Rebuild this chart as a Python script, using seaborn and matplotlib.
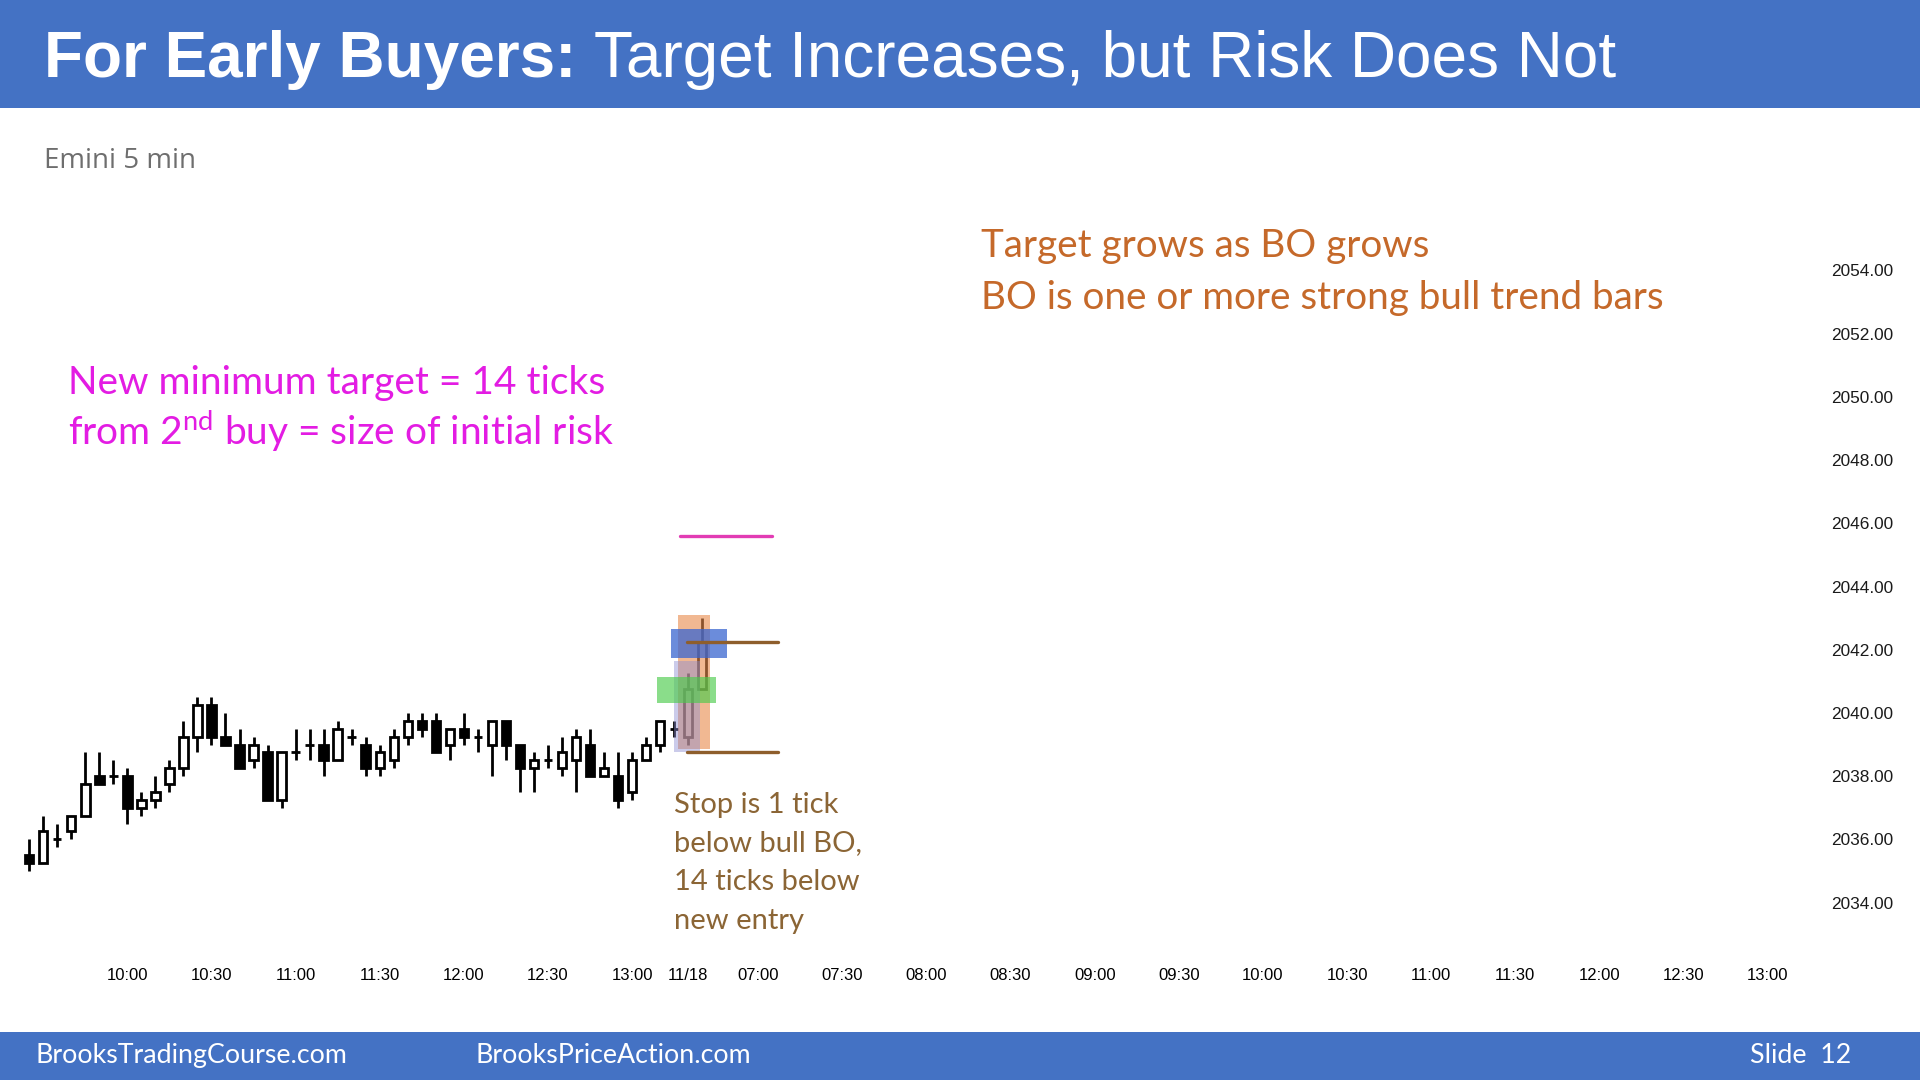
from __future__ import annotations

import matplotlib

matplotlib.use("Agg")
import matplotlib.pyplot as plt
import numpy as np
import pandas as pd
import seaborn as sns
from matplotlib.patches import Rectangle

W, H = 1920, 1080

# 5 min bars; x is the bar number counted from the 10:00 bar of the first day
BAR_IDX = list(range(-7, 42))
OPENS = [2035.5, 2035.25, 2036.0, 2036.25, 2036.75, 2038.0, 2038.0,
         2038.0, 2037.0, 2037.25, 2037.75, 2038.25, 2039.25, 2040.25, 2039.25, 2039.0, 2038.5,
         2038.75, 2037.25, 2038.75, 2039.0, 2039.0, 2038.5, 2039.25, 2039.0, 2038.25, 2038.5,
         2039.25, 2039.75, 2039.75, 2039.0, 2039.5, 2039.25, 2039.0, 2039.75, 2039.0, 2038.25,
         2038.5, 2038.25, 2038.5, 2039.0, 2038.0, 2038.0, 2037.5, 2038.5, 2039.0, 2039.5,
         2039.25, 2040.75]
HIGHS = [2036.0, 2036.75, 2036.5, 2036.75, 2038.75, 2038.75, 2038.5,
         2038.25, 2037.5, 2038.0, 2038.5, 2039.75, 2040.5, 2040.5, 2040.0, 2039.5, 2039.25,
         2039.0, 2038.75, 2039.5, 2039.5, 2039.5, 2039.75, 2039.5, 2039.25, 2039.0, 2039.5,
         2040.0, 2040.0, 2040.0, 2039.5, 2040.0, 2039.5, 2039.75, 2039.75, 2039.0, 2038.75,
         2039.0, 2039.25, 2039.5, 2039.5, 2038.75, 2038.75, 2038.75, 2039.25, 2039.75, 2039.75,
         2041.25, 2043.0]
LOWS = [2035.0, 2035.25, 2035.75, 2036.0, 2036.75, 2037.75, 2037.75,
        2036.5, 2036.75, 2037.0, 2037.5, 2038.0, 2038.75, 2039.0, 2039.0, 2038.25, 2038.25,
        2037.25, 2037.0, 2038.5, 2038.5, 2038.0, 2038.5, 2039.0, 2038.0, 2038.0, 2038.25,
        2039.0, 2039.25, 2038.75, 2038.5, 2039.0, 2038.75, 2038.0, 2038.5, 2037.5, 2037.5,
        2038.25, 2038.0, 2037.5, 2038.0, 2038.0, 2037.0, 2037.25, 2038.5, 2038.75, 2039.25,
        2039.0, 2040.75]
CLOSES = [2035.25, 2036.25, 2036.0, 2036.75, 2037.75, 2037.75, 2038.0,
          2037.0, 2037.25, 2037.5, 2038.25, 2039.25, 2040.25, 2039.25, 2039.0, 2038.25, 2039.0,
          2037.25, 2038.75, 2038.75, 2039.0, 2038.5, 2039.5, 2039.25, 2038.25, 2038.75, 2039.25,
          2039.75, 2039.5, 2038.75, 2039.5, 2039.25, 2039.25, 2039.75, 2039.0, 2038.25, 2038.5,
          2038.5, 2038.75, 2039.25, 2038.0, 2038.25, 2037.25, 2038.5, 2039.0, 2039.75, 2039.5,
          2040.75, 2042.25]

TICK_POS = [0, 6, 12, 18, 24, 30, 36, 40, 45, 51, 57, 63, 69, 75, 81, 87, 93, 99, 105, 111, 117]
TICK_LABELS = ["10:00", "10:30", "11:00", "11:30", "12:00", "12:30", "13:00", "11/18",
               "07:00", "07:30", "08:00", "08:30", "09:00", "09:30", "10:00", "10:30",
               "11:00", "11:30", "12:00", "12:30", "13:00"]
PRICE_TICKS = [2034, 2036, 2038, 2040, 2042, 2044, 2046, 2048, 2050, 2052, 2054]

# horizontal levels drawn next to the breakout
LEVEL_NAMES = ["target", "entry", "stop"]
LEVEL_PRICES = [2045.6, 2042.25, 2038.75]
LEVEL_FROM = [39.4, 39.9, 39.9]
LEVEL_TO = [46.0, 46.4, 46.4]

# shaded boxes around the bull breakout
ZONE_NAMES = ["breakout", "first_bar", "first_buy", "second_buy"]
ZONE_X0 = [39.3, 39.0, 37.8, 38.8]
ZONE_X1 = [41.55, 40.85, 42.0, 42.8]
ZONE_Y0 = [2038.85, 2038.75, 2040.3, 2041.75]
ZONE_Y1 = [2043.1, 2041.65, 2041.15, 2042.65]

ZONE_STYLE = {
    "breakout": ("#E8894A", 0.6),
    "first_bar": ("#8C8CD2", 0.45),
    "first_buy": ("#4CCB4C", 0.65),
    "second_buy": ("#3A66D0", 0.75),
}
LEVEL_COLORS = {"target": "#E23CB4", "entry": "#8E5E2C", "stop": "#8E5E2C"}

BLUE = "#4472C4"
ARIAL = "Liberation Sans"
CALIBRI = "Lato"


def fx(px: float) -> float:
    return px / W


def fy(py: float) -> float:
    return 1 - py / H


def setup_theme() -> None:
    sns.set_theme(style="white")
    plt.rcParams["font.family"] = [ARIAL, "DejaVu Sans"]
    plt.rcParams["mathtext.fontset"] = "custom"
    plt.rcParams["mathtext.rm"] = CALIBRI
    plt.rcParams["mathtext.it"] = CALIBRI + ":italic"
    plt.rcParams["mathtext.bf"] = CALIBRI + ":bold"


def draw_candles(ax) -> None:
    df = pd.DataFrame({"bar": BAR_IDX, "open": OPENS, "high": HIGHS, "low": LOWS, "close": CLOSES})
    ax.vlines(df["bar"], df["low"], df["high"], color="black", linewidth=2.0, zorder=2)
    bottom = df[["open", "close"]].min(axis=1)
    height = (df["close"] - df["open"]).abs()
    face = np.where(df["close"] > df["open"], "white", "black")
    ax.bar(df["bar"], height, bottom=bottom, width=0.6, color=face,
           edgecolor="black", linewidth=2.0, zorder=3)


def draw_zones(ax) -> None:
    for name, x0, x1, y0, y1 in zip(ZONE_NAMES, ZONE_X0, ZONE_X1, ZONE_Y0, ZONE_Y1):
        color, alpha = ZONE_STYLE[name]
        ax.add_patch(Rectangle((x0, y0), x1 - x0, y1 - y0, facecolor=color,
                               edgecolor="none", alpha=alpha, zorder=4))


def draw_levels(ax) -> None:
    rows = []
    for name, price, a, b in zip(LEVEL_NAMES, LEVEL_PRICES, LEVEL_FROM, LEVEL_TO):
        rows.append({"level": name, "x": a, "price": price})
        rows.append({"level": name, "x": b, "price": price})
    levels = pd.DataFrame(rows)
    sns.lineplot(data=levels, x="x", y="price", hue="level", palette=LEVEL_COLORS,
                 estimator=None, linewidth=2.4, legend=False, ax=ax, zorder=5)


def slide_frame(fig) -> None:
    fig.add_artist(Rectangle((0, fy(108)), 1, 108 / H, transform=fig.transFigure,
                             facecolor=BLUE, edgecolor="none", zorder=0))
    fig.add_artist(Rectangle((0, 0), 1, 48 / H, transform=fig.transFigure,
                             facecolor=BLUE, edgecolor="none", zorder=0))

    bold = fig.text(fx(44), fy(77), "For Early Buyers:", color="white", fontsize=46,
                    fontweight="bold", family=ARIAL, va="baseline", ha="left")
    renderer = fig.canvas.get_renderer()
    bb = bold.get_window_extent(renderer)
    fig.text(fx(bb.x1 + 18), fy(77), "Target Increases, but Risk Does Not", color="white",
             fontsize=46, family=ARIAL, va="baseline", ha="left")

    fig.text(fx(44), fy(168), "Emini 5 min", color="#6E6E6E", fontsize=20,
             family="Open Sans", va="baseline")

    for x, label in [(35, "BrooksTradingCourse.com"), (475, "BrooksPriceAction.com")]:
        fig.text(fx(x), fy(1063), label, color="white", fontsize=19.3, family=CALIBRI,
                 va="baseline", ha="left")
    fig.text(fx(1851), fy(1063), "Slide  12", color="white", fontsize=19.3, family=CALIBRI,
             va="baseline", ha="right")


def annotations(fig) -> None:
    orange = "#C5692A"
    fig.text(fx(981), fy(257), "Target grows as BO grows", color=orange, fontsize=27.8,
             family=CALIBRI, va="baseline")
    fig.text(fx(981), fy(309), "BO is one or more strong bull trend bars", color=orange,
             fontsize=27.8, family=CALIBRI, va="baseline")

    magenta = "#E31CE3"
    fig.text(fx(68), fy(394), "New minimum target = 14 ticks", color=magenta, fontsize=28,
             family=CALIBRI, va="baseline")
    fig.text(fx(68), fy(445), r"from 2$^{\mathrm{nd}}$ buy = size of initial risk", color=magenta,
             fontsize=28, family=CALIBRI, va="baseline")

    brown = "#8B6535"
    for i, line in enumerate(["Stop is 1 tick", "below bull BO,", "14 ticks below", "new entry"]):
        fig.text(fx(674), fy(813 + 38.5 * i), line, color=brown, fontsize=21,
                 family=CALIBRI, va="baseline")


def main() -> None:
    setup_theme()
    fig = plt.figure(figsize=(19.2, 10.8), dpi=100, facecolor="white")
    ax = fig.add_axes([fx(18), fy(955), (1812 - 18) / W, (955 - 200) / H])
    ax.set_facecolor("none")

    draw_candles(ax)
    draw_zones(ax)
    draw_levels(ax)

    ax.set_xlim(-7.8, 120.16)
    ax.set_ylim(2032.34, 2056.23)
    ax.set_xticks(TICK_POS)
    ax.set_xticklabels(TICK_LABELS, fontsize=12, family=ARIAL, color="black")
    ax.yaxis.tick_right()
    ax.set_yticks(PRICE_TICKS)
    ax.set_yticklabels([f"{p:.2f}" for p in PRICE_TICKS], fontsize=12.4, family=ARIAL,
                       color="#1A1A1A")
    ax.tick_params(axis="x", length=0, pad=9)
    ax.tick_params(axis="y", length=0, pad=14)
    ax.set_xlabel("")
    ax.set_ylabel("")
    ax.grid(False)
    for spine in ax.spines.values():
        spine.set_visible(False)

    slide_frame(fig)
    annotations(fig)

    fig.savefig("out.png", dpi=100, facecolor="white")
    plt.close(fig)


if __name__ == "__main__":
    main()
